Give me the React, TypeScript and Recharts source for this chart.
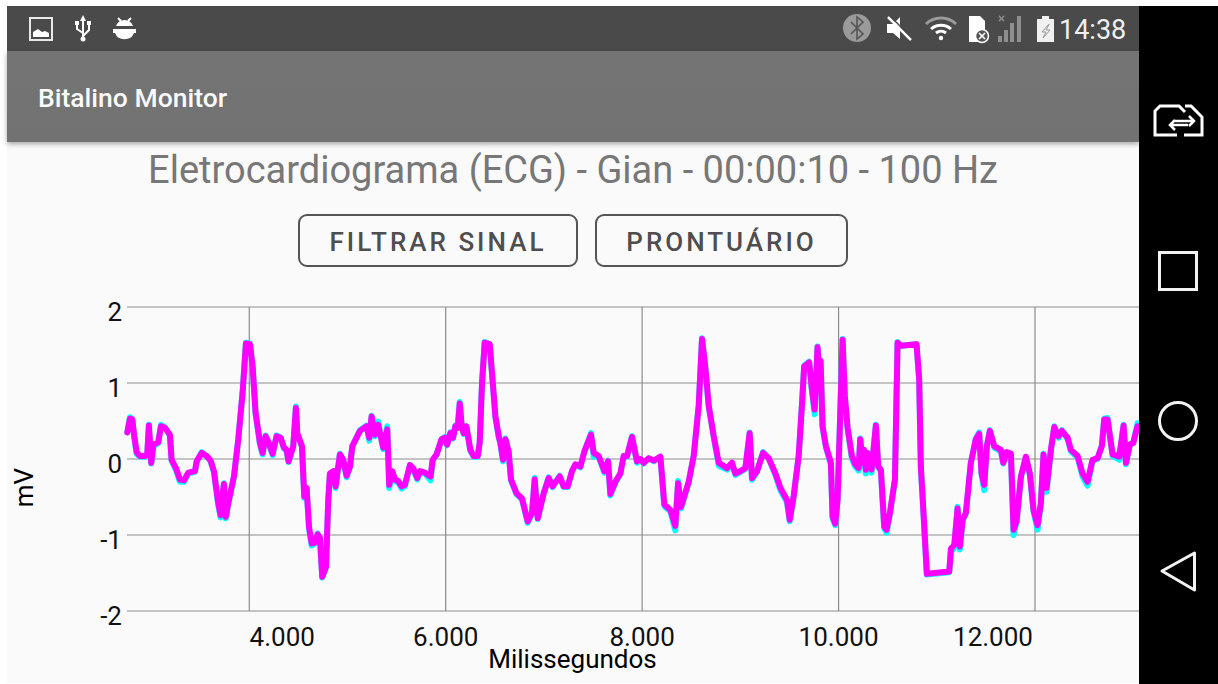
import * as React from "react"
import { CartesianGrid, Label, Line, LineChart, XAxis, YAxis } from "recharts"

const TITLE = "Eletrocardiograma (ECG) - Gian - 00:00:10 - 100 Hz"
const xTicks = [4000, 6000, 8000, 10000, 12000]
const yTicks = [-2, -1, 0, 1, 2]

const timeMs = [
    2758, 2785, 2809, 2829, 2853, 2887, 2938, 2961, 2978, 3002,
    3023, 3073, 3101, 3141, 3192, 3209, 3253, 3294, 3335, 3379,
    3447, 3464, 3515, 3566, 3606, 3640, 3684, 3708, 3722, 3742,
    3762, 3786, 3844, 3888, 3932, 3966, 4007, 4034, 4064, 4109,
    4136, 4166, 4193, 4238, 4278, 4319, 4353, 4380, 4400, 4448,
    4475, 4489, 4536, 4560, 4584, 4608, 4635, 4669, 4696, 4720,
    4743, 4781, 4804, 4821, 4855, 4879, 4923, 4957, 4991, 5025,
    5049, 5127, 5195, 5222, 5246, 5280, 5313, 5364, 5405, 5425,
    5456, 5483, 5517, 5551, 5585, 5636, 5670, 5711, 5738, 5789,
    5846, 5867, 5907, 5958, 5992, 6014, 6048, 6075, 6098, 6122,
    6143, 6163, 6183, 6210, 6251, 6285, 6326, 6346, 6370, 6397,
    6448, 6482, 6506, 6540, 6557, 6584, 6608, 6641, 6665, 6720,
    6777, 6835, 6879, 6906, 6937, 6998, 7049, 7089, 7161, 7201,
    7242, 7286, 7320, 7371, 7412, 7480, 7507, 7558, 7616, 7653,
    7677, 7728, 7778, 7812, 7846, 7897, 7948, 7982, 8016, 8067,
    8118, 8186, 8226, 8288, 8338, 8366, 8396, 8474, 8525, 8576,
    8610, 8644, 8678, 8729, 8780, 8865, 8915, 8949, 9000, 9051,
    9095, 9119, 9170, 9231, 9289, 9357, 9408, 9475, 9503, 9543,
    9594, 9627, 9650, 9701, 9725, 9756, 9786, 9803, 9817, 9837,
    9871, 9922, 9939, 9966, 9990, 10007, 10041, 10064, 10092, 10136,
    10170, 10204, 10221, 10244, 10261, 10278, 10295, 10336, 10380, 10404,
    10431, 10465, 10489, 10523, 10574, 10601, 10635, 10794, 10821, 10838,
    10865, 10899, 11127, 11144, 11178, 11212, 11235, 11263, 11296, 11347,
    11398, 11432, 11456, 11483, 11510, 11541, 11585, 11653, 11677, 11711,
    11755, 11782, 11812, 11857, 11907, 11948, 11985, 12026, 12060, 12087,
    12118, 12162, 12196, 12240, 12274, 12332, 12366, 12434, 12484, 12535,
    12586, 12637, 12681, 12705, 12739, 12790, 12858, 12902, 12926, 12966,
    13000, 13044,
]

const filteredMv = [
    0.35, 0.53, 0.52, 0.30, 0.09, 0.04, 0.04, 0.06, 0.44, -0.05,
    0.19, 0.22, 0.43, 0.41, 0.32, -0.01, -0.12, -0.27, -0.28, -0.18,
    -0.16, -0.03, 0.08, 0.04, -0.02, -0.16, -0.58, -0.74, -0.54, -0.33,
    -0.76, -0.58, -0.23, 0.26, 0.87, 1.52, 1.51, 1.22, 0.61, 0.21,
    0.08, 0.30, 0.23, 0.07, 0.30, 0.28, 0.15, 0.12, -0.03, 0.17,
    0.67, 0.34, 0.17, -0.49, -0.38, -0.89, -1.11, -1.10, -0.99, -1.04,
    -1.55, -1.42, -0.54, -0.19, -0.16, -0.36, 0.06, -0.01, -0.22, -0.10,
    0.17, 0.37, 0.43, 0.28, 0.56, 0.32, 0.45, 0.15, 0.39, -0.34,
    -0.16, -0.27, -0.29, -0.36, -0.34, -0.08, -0.12, -0.25, -0.16, -0.18,
    -0.23, -0.01, 0.06, 0.26, 0.28, 0.19, 0.34, 0.28, 0.43, 0.41,
    0.73, 0.43, 0.34, 0.43, 0.12, 0.04, 0.04, 0.21, 1.00, 1.53,
    1.51, 0.96, 0.56, 0.30, 0.21, -0.01, 0.26, 0.10, -0.27, -0.45,
    -0.52, -0.82, -0.71, -0.27, -0.78, -0.45, -0.25, -0.36, -0.23, -0.36,
    -0.36, -0.16, -0.07, -0.10, 0.10, 0.32, 0.08, 0.04, -0.16, -0.03,
    -0.46, -0.30, -0.19, 0.04, 0.04, 0.29, -0.03, 0, -0.05, 0.01,
    -0.02, 0.03, -0.60, -0.67, -0.88, -0.32, -0.63, -0.30, 0.04, 0.70,
    1.58, 1.20, 0.70, 0.30, -0.05, -0.12, -0.05, -0.19, -0.16, -0.12,
    0.34, -0.25, -0.16, 0.08, 0.01, -0.19, -0.38, -0.54, -0.80, -0.49,
    0.04, 0.70, 1.22, 1.27, 0.96, 0.65, 1.47, 1.09, 1.29, 0.43,
    0.17, -0.05, -0.76, -0.85, -0.54, 0.17, 1.57, 0.83, 0.41, 0.04,
    -0.07, -0.12, 0.26, -0.05, 0.12, -0.14, 0.08, -0.14, 0.44, -0.10,
    -0.14, -0.89, -0.93, -0.71, -0.27, 1.53, 1.49, 1.51, 1.05, -0.10,
    -0.71, -1.51, -1.48, -1.18, -1.13, -0.65, -1.15, -0.80, -0.71, -0.05,
    0.26, 0.33, -0.19, -0.34, 0.17, 0.37, 0.17, 0.12, -0.05, 0.09,
    0.07, -0.93, -0.82, -0.23, 0.03, -0.19, -0.67, -0.87, -0.58, 0.06,
    -0.38, 0.12, 0.42, 0.30, 0.37, 0.28, 0.12, 0.04, -0.19, -0.30,
    -0.01, 0.01, 0.17, 0.52, 0.52, 0.06, 0.03, 0.44, -0.05, 0.19,
    0.21, 0.43,
]

// cyan trace, only shows where it runs a little past the magenta one
const rawMv = [
    0.35, 0.55, 0.53, 0.29, 0.07, 0.03, 0.03, 0.05, 0.45, -0.06,
    0.17, 0.21, 0.45, 0.42, 0.31, -0.02, -0.14, -0.30, -0.30, -0.19,
    -0.17, -0.04, 0.09, 0.04, -0.03, -0.17, -0.60, -0.77, -0.53, -0.32,
    -0.78, -0.59, -0.24, 0.26, 0.87, 1.53, 1.52, 1.22, 0.60, 0.19,
    0.06, 0.31, 0.22, 0.05, 0.31, 0.28, 0.14, 0.11, -0.04, 0.17,
    0.69, 0.33, 0.16, -0.51, -0.38, -0.91, -1.14, -1.11, -0.98, -1.05,
    -1.56, -1.43, -0.55, -0.21, -0.17, -0.38, 0.07, -0.02, -0.24, -0.11,
    0.16, 0.38, 0.44, 0.24, 0.57, 0.30, 0.49, 0.13, 0.43, -0.38,
    -0.17, -0.29, -0.31, -0.39, -0.36, -0.08, -0.13, -0.27, -0.17, -0.19,
    -0.28, -0.02, 0.06, 0.26, 0.29, 0.18, 0.35, 0.27, 0.44, 0.41,
    0.75, 0.42, 0.33, 0.43, 0.11, 0.03, 0.03, 0.21, 1.00, 1.54,
    1.51, 0.95, 0.55, 0.29, 0.20, -0.03, 0.27, 0.09, -0.28, -0.46,
    -0.53, -0.84, -0.71, -0.25, -0.79, -0.45, -0.24, -0.37, -0.22, -0.37,
    -0.37, -0.16, -0.08, -0.11, 0.10, 0.34, 0.03, 0.03, -0.18, -0.02,
    -0.48, -0.31, -0.20, 0.04, 0.03, 0.30, -0.05, -0.01, -0.06, 0.01,
    -0.03, 0.03, -0.62, -0.69, -0.94, -0.29, -0.65, -0.31, 0.04, 0.70,
    1.59, 1.20, 0.69, 0.29, -0.09, -0.14, -0.06, -0.21, -0.17, -0.13,
    0.35, -0.27, -0.17, 0.09, 0.01, -0.21, -0.41, -0.57, -0.82, -0.49,
    0.04, 0.71, 1.23, 1.28, 0.94, 0.59, 1.48, 1.07, 1.30, 0.42,
    0.16, -0.08, -0.78, -0.87, -0.54, 0.18, 1.58, 0.80, 0.40, 0.00,
    -0.10, -0.15, 0.27, -0.09, 0.12, -0.19, 0.08, -0.18, 0.45, -0.11,
    -0.16, -0.91, -0.97, -0.72, -0.28, 1.54, 1.49, 1.51, 1.04, -0.11,
    -0.72, -1.52, -1.49, -1.21, -1.17, -0.63, -1.19, -0.81, -0.72, -0.05,
    0.27, 0.35, -0.21, -0.41, 0.18, 0.38, 0.15, 0.10, -0.06, 0.08,
    0.05, -1.00, -0.83, -0.24, 0.02, -0.21, -0.69, -0.93, -0.59, 0.07,
    -0.43, 0.11, 0.43, 0.28, 0.38, 0.26, 0.10, 0.02, -0.23, -0.35,
    -0.02, 0.00, 0.18, 0.53, 0.54, 0.04, -0.01, 0.45, -0.07, 0.19,
    0.21, 0.47,
]

const chartData = timeMs.map((t, i) => ({ t, raw: rawMv[i], filtered: filteredMv[i] }))

const FONT = "Roboto, sans-serif"

function formatMs(value: number) {
    return value.toLocaleString("de-DE")
}

// the first and last labels get pushed inwards by the app
function XTick({ x, y, payload }: any) {
    let shift = 0
    if (payload.value === 4000) shift = 33
    if (payload.value === 12000) shift = -42
    return (
        <text x={x + shift} y={646} textAnchor="middle" fontFamily={FONT} fontSize={26} fill="#111">
            {formatMs(payload.value)}
        </text>
    )
}

function YTick({ y, payload }: any) {
    return (
        <text x={122} y={y + 14} textAnchor="end" fontFamily={FONT} fontSize={26} fill="#111">
            {payload.value}
        </text>
    )
}

function StatusIcons() {
    return (
        <svg width={1139} height={52} style={{ position: "absolute", left: 0, top: 0 }}>
            {/* picture */}
            <rect x={30} y={18} width={22} height={22} fill="none" stroke="#e8e8e8" strokeWidth={2} />
            <path d="M33 36 L33 32 L38 29 L42 32 L45 31 L49 33 L49 37 L33 37 Z" fill="#fff" />
            {/* usb */}
            <path d="M83 17 L83 40 M83 33 L77 29 L77 25 M83 36 L89 30 L89 24" fill="none" stroke="#fff" strokeWidth={2} />
            <circle cx={83} cy={39} r={2.5} fill="#fff" />
            <path d="M80 21 L83 15 L86 21 Z" fill="#fff" />
            <rect x={75} y={21} width={4} height={4} fill="#fff" />
            <rect x={87} y={21} width={4} height={4} fill="#fff" />
            {/* bug */}
            <path d="M116 26 A9 9 0 0 1 133 26 Z" fill="#fff" />
            <path d="M113 29 H136 V33 H134 A10 9 0 0 1 115 33 H113 Z" fill="#fff" />
            <path d="M118 18 L121 21 M131 18 L128 21" stroke="#fff" strokeWidth={2} />
            {/* bluetooth */}
            <circle cx={857} cy={28} r={14} fill="#9a9a9a" />
            <path d="M851 22 L863 34 L857 39 L857 17 L863 22 L851 34" fill="none" stroke="#555" strokeWidth={1.6} />
            {/* mute */}
            <path d="M887 24 H893 L900 17 V39 L893 33 H887 Z" fill="#fff" />
            <path d="M888 17 L911 40" stroke="#fff" strokeWidth={2.5} />
            <path d="M889 15 L912 38" stroke="#4a4a4a" strokeWidth={1.5} />
            {/* wifi */}
            <path d="M926 24 A22 22 0 0 1 956 24" fill="none" stroke="#9a9a9a" strokeWidth={3} />
            <path d="M931 29 A15 15 0 0 1 951 29" fill="none" stroke="#fff" strokeWidth={3} />
            <path d="M936 33 A8 8 0 0 1 946 33" fill="none" stroke="#fff" strokeWidth={3} />
            <circle cx={941} cy={38} r={2.2} fill="#fff" />
            {/* sd card */}
            <path d="M969 16 H980 L985 21 V42 H969 Z" fill="#fff" />
            <circle cx={982} cy={36} r={6.5} fill="#555" stroke="#fff" strokeWidth={1.5} />
            <path d="M979 33 L985 39 M985 33 L979 39" stroke="#fff" strokeWidth={1.6} />
            {/* signal */}
            <rect x={998} y={36} width={4} height={6} fill="#8e8e8e" />
            <rect x={1004} y={30} width={4} height={12} fill="#8e8e8e" />
            <rect x={1010} y={23} width={4} height={19} fill="#8e8e8e" />
            <rect x={1017} y={16} width={4} height={26} fill="#8e8e8e" />
            <path d="M999 16 L1004 21 M1004 16 L999 21" stroke="#8e8e8e" strokeWidth={1.5} />
            {/* battery */}
            <path d="M1037 19 H1042 V16 H1049 V19 H1054 V42 H1037 Z" fill="#f0f0f0" />
            <path d="M1049 24 L1042 32 H1046 L1043 38 L1050 30 H1046 Z" fill="none" stroke="#999" strokeWidth={1} />
            <text x={1059} y={39} fontFamily={FONT} fontSize={27} fill="#f0f0f0">14:38</text>
        </svg>
    )
}

function NavIcons() {
    return (
        <svg width={79} height={684} style={{ position: "absolute", left: 1139, top: 0 }}>
            <path d="M38 135 H16 V111 L21 106 H40 L46 112" fill="none" stroke="#fff" strokeWidth={3} />
            <path d="M46 106 H52 L63 117 V135 H45" fill="none" stroke="#fff" strokeWidth={3} />
            <path d="M36 121 H54 M50 116 L55 121 L50 126" fill="none" stroke="#fff" strokeWidth={2.5} />
            <path d="M49 125 H32 M36 120 L31 125 L36 130" fill="none" stroke="#fff" strokeWidth={2.5} />
            <rect x={20.5} y={252.5} width={37} height={37} fill="none" stroke="#f2f2f2" strokeWidth={3} />
            <circle cx={39} cy={421} r={18.5} fill="none" stroke="#f2f2f2" strokeWidth={3} />
            <path d="M23 571 L55.5 553 V590 Z" fill="none" stroke="#f2f2f2" strokeWidth={3} strokeLinejoin="round" />
        </svg>
    )
}

function OutlineButton({ left, width, text }: { left: number; width: number; text: string }) {
    return (
        <div
            style={{
                position: "absolute",
                left,
                top: 214,
                width,
                height: 53,
                boxSizing: "border-box",
                border: "2px solid #555",
                borderRadius: 9,
                textAlign: "center",
                lineHeight: "53px",
                fontFamily: FONT,
                fontWeight: 500,
                fontSize: 26,
                letterSpacing: 3,
                color: "#4e4e4e",
            }}
        >
            {text}
        </div>
    )
}

export default function App() {
    return (
        <div style={{ position: "fixed", left: 0, top: 0, width: 1218, height: 684, background: "#fff", overflow: "hidden" }}>
            <div style={{ position: "absolute", left: 7, top: 6, width: 1132, height: 677, background: "#fafafa" }} />

            {/* status + app bars */}
            <div style={{ position: "absolute", left: 7, top: 6, width: 1132, height: 45, background: "#4a4a4a" }} />
            <div style={{ position: "absolute", left: 7, top: 51, width: 1132, height: 91, background: "linear-gradient(#747474, #727272)", boxShadow: "0 2px 5px rgba(0,0,0,0.35)" }} />
            <StatusIcons />
            <div style={{ position: "absolute", left: 38, top: 82, fontFamily: FONT, fontWeight: 500, fontSize: 26.5, lineHeight: "32px", color: "#fafafa", whiteSpace: "nowrap" }}>
                Bitalino Monitor
            </div>

            <div style={{ position: "absolute", left: 0, top: 148, width: 1146, textAlign: "center", fontFamily: FONT, fontSize: 38, lineHeight: "44px", color: "#777", whiteSpace: "nowrap" }}>
                {TITLE}
            </div>
            <OutlineButton left={298} width={280} text="FILTRAR SINAL" />
            <OutlineButton left={595} width={253} text="PRONTUÁRIO" />

            <div style={{ position: "absolute", left: 0, top: 0 }}>
                <LineChart width={1139} height={684} data={chartData} margin={{ top: 307, right: 0, bottom: 0, left: 0 }}>
                    <CartesianGrid stroke="#8c8c8c" strokeWidth={1.2} syncWithTicks />
                    <XAxis
                        dataKey="t"
                        type="number"
                        domain={[2755, 13059]}
                        ticks={xTicks}
                        height={73}
                        axisLine={false}
                        tickLine={false}
                        interval={0}
                        tick={<XTick />}
                    >
                        <Label
                            content={() => (
                                <text x={572.5} y={668} textAnchor="middle" fontFamily={FONT} fontSize={26} fill="#000">
                                    Milissegundos
                                </text>
                            )}
                        />
                    </XAxis>
                    <YAxis
                        type="number"
                        domain={[-2, 2]}
                        ticks={yTicks}
                        width={127}
                        axisLine={false}
                        tickLine={false}
                        interval={0}
                        tick={<YTick />}
                    >
                        <Label
                            content={() => (
                                <text x={33} y={487.5} textAnchor="middle" fontFamily={FONT} fontSize={26} fill="#000" transform="rotate(-90 33 487.5)">
                                    mV
                                </text>
                            )}
                        />
                    </YAxis>
                    <Line dataKey="raw" type="linear" stroke="#00ffff" strokeWidth={6} dot={false} strokeLinejoin="round" strokeLinecap="round" isAnimationActive={false} />
                    <Line dataKey="filtered" type="linear" stroke="#ff00ff" strokeWidth={6} dot={false} strokeLinejoin="round" strokeLinecap="round" isAnimationActive={false} />
                </LineChart>
            </div>

            <div style={{ position: "absolute", left: 1139, top: 6, width: 79, height: 678, background: "#000" }} />
            <NavIcons />
        </div>
    )
}
